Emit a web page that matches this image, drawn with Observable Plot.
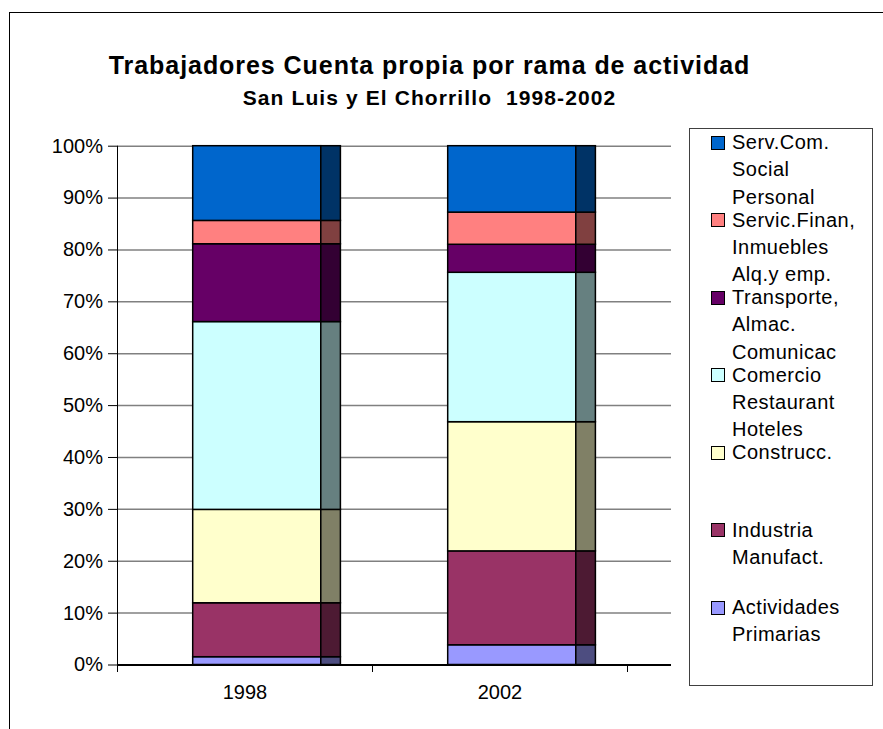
<!DOCTYPE html>
<html><head><meta charset="utf-8">
<script src="https://cdn.jsdelivr.net/npm/d3@7"></script>
<script src="https://cdn.jsdelivr.net/npm/@observablehq/plot@0.6"></script>
<style>
body{margin:0;background:#fff;}
#wrap{position:relative;width:883px;height:729px;overflow:hidden;font-family:"Liberation Sans",Arial,sans-serif;color:#000;background:#fff;}
#frame{position:absolute;left:8.5px;top:12px;width:1000px;height:1000px;border-left:1px solid #000;border-top:1px solid #000;}
#chart{position:absolute;left:0;top:0;}
.title{position:absolute;left:0;width:859px;text-align:center;font-weight:bold;white-space:nowrap;}
#legend{position:absolute;left:689px;top:128px;width:184px;height:558px;border:1px solid #404040;box-sizing:border-box;background:#fff;}
.sw{position:absolute;left:21px;width:14px;height:14px;border:1px solid #000;box-sizing:border-box;}
.lt{position:absolute;left:42px;font-size:20px;line-height:27.3px;white-space:nowrap;letter-spacing:0.5px;}
</style></head>
<body>
<div id="wrap">
  <div id="frame"></div>
  <div id="chart"></div>
  <div class="title" style="top:52.8px;font-size:25px;line-height:25px;letter-spacing:0.95px;">Trabajadores Cuenta propia por rama de actividad</div>
  <div class="title" style="top:87.2px;font-size:21px;line-height:21px;letter-spacing:1.1px;">San Luis y El Chorrillo&nbsp; 1998-2002</div>
  <div id="legend"></div>
</div>
<script>
const years = ["1998", "2002"];
// stacking order, bottom to top
const categories = [
  "Actividades Primarias",
  "Industria Manufact.",
  "Construcc.",
  "Comercio Restaurant Hoteles",
  "Transporte, Almac. Comunicac",
  "Servic.Finan, Inmuebles Alq.y emp.",
  "Serv.Com. Social Personal"
];
const legendLines = [
  ["Actividades", "Primarias"],
  ["Industria", "Manufact."],
  ["Construcc."],
  ["Comercio", "Restaurant", "Hoteles"],
  ["Transporte,", "Almac.", "Comunicac"],
  ["Servic.Finan,", "Inmuebles", "Alq.y emp."],
  ["Serv.Com.", "Social", "Personal"]
];
const values1998 = [1.5, 10.4, 18.0, 36.2, 15.0, 4.5, 14.4];
const values2002 = [3.8, 18.1, 24.9, 28.8, 5.4, 6.2, 12.8];
const yTicks = [0, 10, 20, 30, 40, 50, 60, 70, 80, 90, 100];

const frontColors = ["#9999FF", "#993366", "#FFFFCC", "#CCFFFF", "#660066", "#FF8080", "#0066CC"];
const sideColors  = ["#4D4D80", "#4D1A33", "#808066", "#668080", "#330033", "#804040", "#003366"];

const series = [values1998, values2002];
const rows = [];
years.forEach((yr, j) => {
  categories.forEach((c, k) => rows.push({year: yr, cat: c, k, value: series[j][k]}));
});

const band = 255;
const plot = Plot.plot({
  width: 883,
  height: 729,
  marginLeft: 117,
  marginRight: 212,
  marginTop: 145.7,
  marginBottom: 64.5,
  style: {fontFamily: "Liberation Sans, Arial, sans-serif", fontSize: "20px", background: "transparent", color: "#000"},
  x: {type: "band", domain: years, range: [117, 627], padding: 0, label: null},
  y: {domain: [0, 100], label: null},
  color: {type: "identity"},
  marks: [
    Plot.ruleY(yTicks.filter(t => t > 0), {stroke: "#808080", strokeWidth: 1.5}),
    Plot.barY(rows, Plot.stackY({x: "year", y: "value", z: "cat", fill: d => frontColors[d.k], stroke: "#000", strokeWidth: 1.5, insetLeft: 75.7, insetRight: 51.2})),
    Plot.barY(rows, Plot.stackY({x: "year", y: "value", z: "cat", fill: d => sideColors[d.k], stroke: "#000", strokeWidth: 1.5, insetLeft: 203.8, insetRight: 31.6})),
    Plot.ruleY([0], {stroke: "#000", strokeWidth: 2}),
    Plot.ruleX([years[0]], {x: d => d, dx: -band / 2, y1: 100, y2: 0, insetBottom: -7.5, stroke: "#000"}),
    Plot.ruleX([years[1]], {x: d => d, dx: -band / 2, y1: 0, y2: 0, insetBottom: -7.5, stroke: "#000"}),
    Plot.ruleX([years[1]], {x: d => d, dx: band / 2, y1: 0, y2: 0, insetBottom: -7.5, stroke: "#000"}),
    Plot.axisY({ticks: yTicks, tickFormat: d => d + "%", tickSize: 9, tickPadding: 5.5, label: null}),
    Plot.axisX({tickSize: 0, tickPadding: 19.5, label: null})
  ]
});
document.getElementById("chart").appendChild(plot);

// legend, top to bottom = reverse stacking order
const legend = document.getElementById("legend");
const order = d3.range(categories.length).reverse();
order.forEach((k, i) => {
  const center = 142.6 + i * 77.5; // page y of first text line center
  const sw = document.createElement("div");
  sw.className = "sw";
  sw.style.top = (center - 7 - 129) + "px";
  sw.style.background = frontColors[k];
  legend.appendChild(sw);
  legendLines[k].forEach((line, li) => {
    const t = document.createElement("div");
    t.className = "lt";
    t.textContent = line;
    t.style.top = (center - 13.6 - 129 + li * 27.3) + "px";
    legend.appendChild(t);
  });
});
</script>
</body></html>
